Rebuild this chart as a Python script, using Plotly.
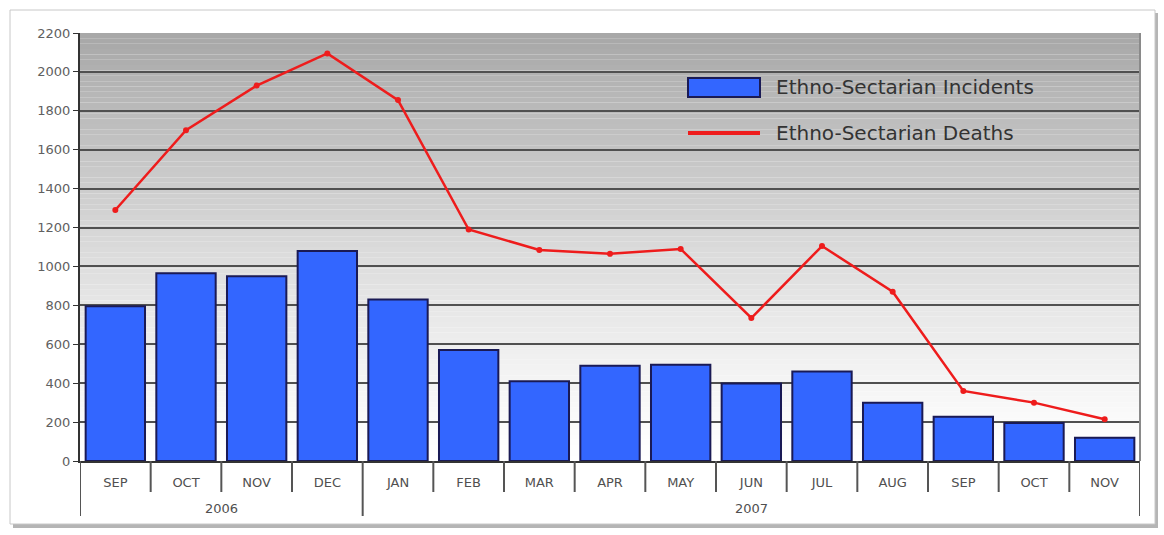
import plotly.graph_objects as go

# ---- data ----
years = ["2006"] * 4 + ["2007"] * 11
months = ["SEP", "OCT", "NOV", "DEC", "JAN", "FEB", "MAR", "APR", "MAY",
          "JUN", "JUL", "AUG", "SEP", "OCT", "NOV"]
incidents = [795, 965, 950, 1080, 830, 570, 410, 490, 495, 398, 460, 300, 228, 195, 120]
deaths = [1290, 1700, 1930, 2095, 1855, 1190, 1085, 1065, 1090, 735, 1105, 870, 360, 300, 215]
y_ticks = list(range(0, 2201, 200))
y_ticktext = [str(v) for v in y_ticks]
series_names = ["Ethno-Sectarian Incidents", "Ethno-Sectarian Deaths"]

W, H = 1164, 535
ML, MR, MT, MB = 80, 24, 33, 74
PW, PH = W - ML - MR, H - MT - MB

def px_x(px):
    return (px - ML) / PW

def px_y(py):
    return (H - MB - py) / PH

FONT = "DejaVu Sans, Arial, sans-serif"
BAR_COLOR = "#3366ff"
BAR_EDGE = "#1a1a55"
LINE_COLOR = "#ee1c1c"

n = len(months)
xpos = list(range(n))

fig = go.Figure()
fig.add_trace(go.Bar(
    x=xpos, y=incidents, name=series_names[0],
    customdata=[f"{m} {y}" for m, y in zip(months, years)],
    hovertemplate="%{customdata}: %{y}<extra></extra>",
    marker=dict(color=BAR_COLOR, line=dict(color=BAR_EDGE, width=2)),
    showlegend=False,
))
fig.add_trace(go.Scatter(
    x=xpos, y=deaths, name=series_names[1], mode="lines+markers",
    customdata=[f"{m} {y}" for m, y in zip(months, years)],
    hovertemplate="%{customdata}: %{y}<extra></extra>",
    line=dict(color=LINE_COLOR, width=2.5),
    marker=dict(color=LINE_COLOR, size=6),
    showlegend=False,
))

shapes = []
# shadow + frame
shapes.append(dict(type="rect", xref="paper", yref="paper", layer="below",
                   x0=px_x(13), x1=px_x(1158), y0=px_y(528), y1=px_y(13),
                   fillcolor="#b5b5b5", line=dict(width=0)))
shapes.append(dict(type="rect", xref="paper", yref="paper", layer="below",
                   x0=px_x(10), x1=px_x(1155), y0=px_y(524), y1=px_y(10),
                   fillcolor="white", line=dict(color="#c8c8c8", width=1)))
# gradient background of plot area
N = 80
for k in range(N):
    t = (k + 0.5) / N
    g = int(round(255 - 88 * t ** 1.25))
    shapes.append(dict(type="rect", xref="paper", yref="paper", layer="below",
                       x0=0, x1=1, y0=k / N, y1=(k + 1) / N,
                       fillcolor=f"rgb({g},{g},{g})", line=dict(width=0)))
# right border of plot
shapes.append(dict(type="line", xref="paper", yref="paper",
                   x0=1, x1=1, y0=0, y1=1, line=dict(color="#8a8a8a", width=2)))

# month separators and year dividers below axis
group_edges = [0] + [i for i in range(1, n) if years[i] != years[i - 1]] + [n]
for k in range(1, n):
    if k in group_edges:
        continue
    shapes.append(dict(type="line", xref="x", yref="paper",
                       x0=k - 0.5, x1=k - 0.5, y0=0, y1=px_y(492),
                       line=dict(color="#555555", width=2)))
for k in group_edges:
    shapes.append(dict(type="line", xref="x", yref="paper",
                       x0=k - 0.5, x1=k - 0.5, y0=0, y1=px_y(516),
                       line=dict(color="#555555", width=2)))

annotations = []
for a, b in zip(group_edges[:-1], group_edges[1:]):
    annotations.append(dict(xref="x", yref="paper", x=(a + b - 1) / 2, y=px_y(508),
                            text=years[a], showarrow=False,
                            xanchor="center", yanchor="middle",
                            font=dict(family=FONT, size=13, color="#505050")))

# custom legend
shapes.append(dict(type="rect", xref="paper", yref="paper",
                   x0=px_x(688), x1=px_x(760), y0=px_y(97), y1=px_y(78),
                   fillcolor=BAR_COLOR, line=dict(color=BAR_EDGE, width=2)))
shapes.append(dict(type="line", xref="paper", yref="paper",
                   x0=px_x(688), x1=px_x(760), y0=px_y(133), y1=px_y(133),
                   line=dict(color=LINE_COLOR, width=4)))
for name, py in zip(series_names, [87, 133]):
    annotations.append(dict(xref="paper", yref="paper", x=px_x(774), y=px_y(py),
                            text=name, showarrow=False,
                            xanchor="left", yanchor="middle",
                            font=dict(family=FONT, size=20, color="#333333")))

fig.update_layout(
    width=W, height=H,
    margin=dict(l=ML, r=MR, t=MT, b=MB, pad=0),
    paper_bgcolor="white",
    plot_bgcolor="rgba(0,0,0,0)",
    bargap=0.16,
    shapes=shapes,
    annotations=annotations,
    font=dict(family=FONT, color="#555555"),
    xaxis=dict(
        range=[-0.5, n - 0.5],
        tickvals=xpos, ticktext=months,
        showline=True, linecolor="#333333", linewidth=2,
        ticks="outside", ticklen=8, tickcolor="rgba(0,0,0,0)",
        tickfont=dict(family=FONT, size=13, color="#505050"),
        showgrid=False, zeroline=False,
    ),
    yaxis=dict(
        range=[0, 2200], tickvals=y_ticks, ticktext=y_ticktext,
        showgrid=True, gridcolor="#505050", gridwidth=1.8,
        showline=True, linecolor="#333333", linewidth=2,
        ticks="outside", ticklen=5, tickcolor="#333333",
        tickfont=dict(family=FONT, size=13, color="#606060"),
        zeroline=False,
    ),
)

fig.write_html("out.html")
